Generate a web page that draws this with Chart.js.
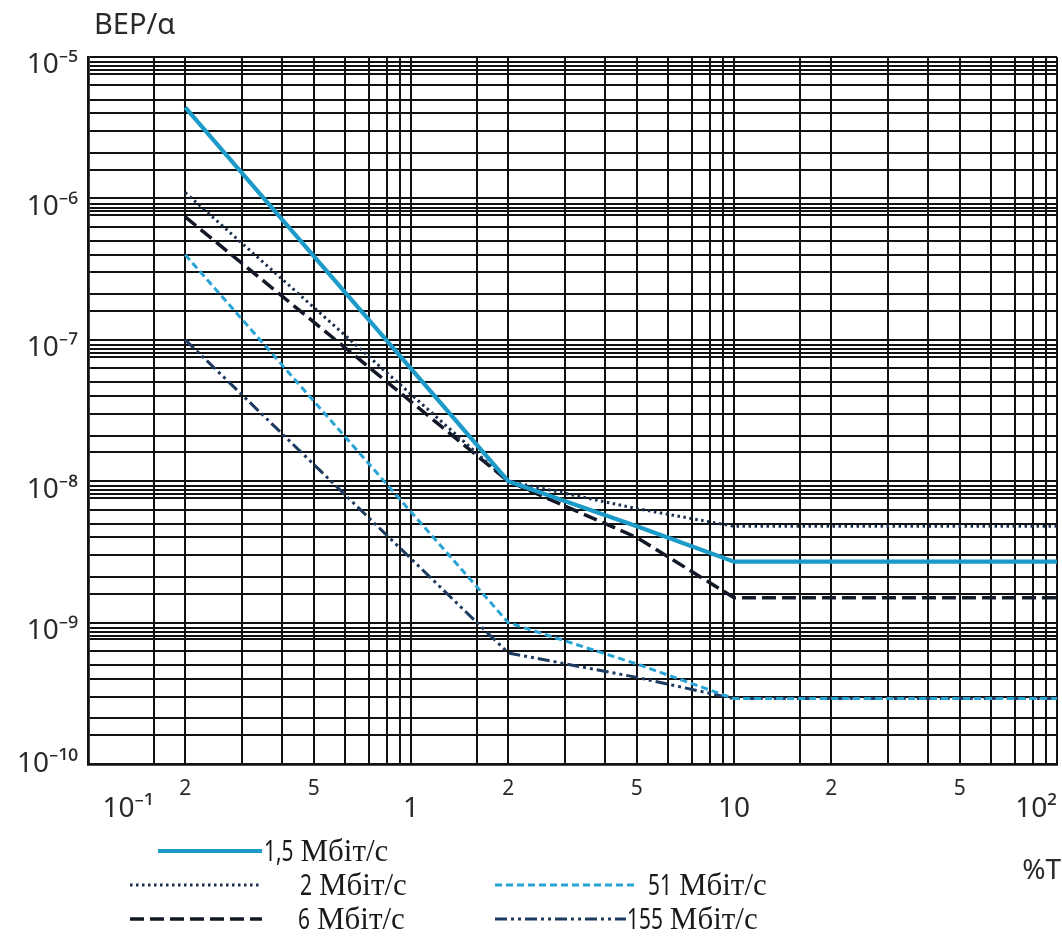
<!DOCTYPE html>
<html>
<head>
<meta charset="utf-8">
<script src="https://cdn.jsdelivr.net/npm/chart.js@4/dist/chart.umd.min.js"></script>
<style>
html,body{margin:0;padding:0;background:#fff;}
#wrap{width:1062px;height:938px;position:relative;}
</style>
</head>
<body>
<div id="wrap"><canvas id="c" width="1062" height="938"></canvas></div>
<script>
// ---- data ----
const xPoints = [0.2, 2, 5, 10, 100];               // %T
const seriesLabels = ['1,5 Мбіт/с', '2 Мбіт/с', '6 Мбіт/с', '51 Мбіт/с', '155 Мбіт/с'];
const s1_5 = [4.4e-6, 1.0e-8, 4.8e-9, 2.7e-9, 2.7e-9];
const s2   = [1.1e-6, 1.0e-8, 6.4e-9, 4.8e-9, 4.8e-9];
const s6   = [7.4e-7, 1.0e-8, 4.0e-9, 1.5e-9, 1.5e-9];
const s51  = [4.0e-7, 1.0e-9, 5.1e-10, 2.9e-10, 2.9e-10];
const s155 = [1.0e-7, 6.1e-10, 4.1e-10, 2.9e-10, 2.9e-10];

// tick labels
const xLabelValues = [0.1, 0.2, 0.5, 1, 2, 5, 10, 20, 50, 100];
const xLabelTexts  = ['  10⁻¹', '2', '5', '1', '2', '5', '10', '2', '5', '10²'];
const yLabelValues = [1e-10, 1e-9, 1e-8, 1e-7, 1e-6, 1e-5];
const yLabelTexts  = ['10⁻¹⁰', '10⁻⁹', '10⁻⁸', '10⁻⁷', '10⁻⁶', '10⁻⁵'];

// grid line multipliers inside each decade (as drawn on the original paper)
const xGridMult = [1, 1.6, 2, 3, 4, 5, 6.25, 7.4, 8.4, 9.25];
const yGridMult = [1, 1.6, 2.1, 3, 4, 5, 6.3, 7.6, 8.1, 8.6, 9.2];
const xDecades = [0.1, 1, 10];
const yDecades = [1e-10, 1e-9, 1e-8, 1e-7, 1e-6];

// ---- helpers ----
const xGrid = [];
xDecades.forEach(d => xGridMult.forEach(m => xGrid.push(m * d)));
xGrid.push(100);
const yGrid = [];
yDecades.forEach(d => yGridMult.forEach(m => yGrid.push(m * d)));
yGrid.push(1e-5);

function same(a, b) { return Math.abs(Math.log10(a) - Math.log10(b)) < 1e-6; }
function findLabel(vals, texts, v) {
  for (let i = 0; i < vals.length; i++) if (same(vals[i], v)) return texts[i];
  return null;
}
function isDecade(v) { const l = Math.log10(v); return Math.abs(l - Math.round(l)) < 1e-6; }
function pts(arr) { return arr.map((y, i) => ({x: xPoints[i], y: y})); }

const styles = [
  {color: '#1c9bc8', width: 4.2, dash: []},
  {color: '#1b2e4e', width: 3,   dash: [2.5, 3.5]},
  {color: '#121826', width: 3.5, dash: [14, 6]},
  {color: '#2aa3d5', width: 3,   dash: [7, 4]},
  {color: '#1d3a60', width: 3,   dash: [12, 4, 3, 4, 3, 4]}
];
const seriesData = [s1_5, s2, s6, s51, s155];

const datasets = seriesData.map((arr, i) => ({
  label: seriesLabels[i],
  data: pts(arr),
  borderColor: styles[i].color,
  backgroundColor: styles[i].color,
  borderWidth: styles[i].width,
  borderDash: styles[i].dash,
  pointRadius: 0,
  tension: 0,
  fill: false
}));

// legend placement (style)
const legendPlace = [
  {x0: 158, x1: 262, tx: 264, y: 851},
  {x0: 130, x1: 262, tx: 300, y: 885},
  {x0: 130, x1: 262, tx: 298, y: 919},
  {x0: 495, x1: 638, tx: 648, y: 885},
  {x0: 495, x1: 626, tx: 627, y: 919}
];

const extras = {
  id: 'extras',
  afterDraw(chart) {
    const ctx = chart.ctx;
    const ca = chart.chartArea;
    ctx.save();
    // axis captions
    ctx.fillStyle = '#2a2a2a';
    ctx.textBaseline = 'middle';
    ctx.textAlign = 'left';
    ctx.font = '29px "Noto Sans", "DejaVu Sans", sans-serif';
    ctx.fillText('BEP/α', ca.left + 6, ca.top - 31);
    ctx.textAlign = 'right';
    ctx.font = '28px "Noto Sans", "DejaVu Sans", sans-serif';
    ctx.fillText('%T', chart.width - 1, 871);
    // legend
    chart.data.datasets.forEach((ds, i) => {
      const p = legendPlace[i];
      ctx.beginPath();
      ctx.setLineDash(ds.borderDash || []);
      ctx.strokeStyle = ds.borderColor;
      ctx.lineWidth = ds.borderWidth;
      ctx.moveTo(p.x0, p.y);
      ctx.lineTo(p.x1, p.y);
      ctx.stroke();
      ctx.setLineDash([]);
      const parts = ds.label.split(' ');
      ctx.fillStyle = '#1a1a1a';
      ctx.textAlign = 'left';
      ctx.textBaseline = 'alphabetic';
      // number part: condensed sans
      ctx.font = '29px "Noto Sans", "DejaVu Sans", sans-serif';
      const sx = 0.72;
      const nw = ctx.measureText(parts[0]).width * sx;
      ctx.save();
      ctx.translate(p.tx, p.y + 10);
      ctx.scale(sx, 1);
      ctx.fillText(parts[0], 0, 0);
      ctx.restore();
      ctx.font = '31px "Liberation Serif", "DejaVu Serif", serif';
      ctx.fillText(parts[1], p.tx + nw + 7, p.y + 10);
    });
    ctx.restore();
  }
};

new Chart(document.getElementById('c'), {
  type: 'line',
  data: {datasets: datasets},
  plugins: [extras],
  options: {
    responsive: false,
    animation: false,
    layout: {padding: {top: 57, right: 5, bottom: 114, left: 0}},
    plugins: {legend: {display: false}, tooltip: {enabled: false}, title: {display: false}},
    scales: {
      x: {
        type: 'logarithmic',
        min: 0.1, max: 100,
        afterBuildTicks: s => { s.ticks = xGrid.map(v => ({value: v})); },
        afterFit: s => { s.height = 60; s.paddingLeft = 0; s.paddingRight = 0; },
        grid: {color: '#111', lineWidth: 2, drawTicks: false},
        border: {display: true, color: '#111', width: 2.8},
        ticks: {
          autoSkip: false, maxRotation: 0, minRotation: 0,
          align: 'inner',
          padding: 13,
          color: '#2a2a2a',
          font: c => {
            const v = c.tick ? c.tick.value : 1;
            return isDecade(v)
              ? {family: '"Noto Sans", "DejaVu Sans", sans-serif', size: 28, lineHeight: 0.76}
              : {family: '"Noto Sans", "DejaVu Sans", sans-serif', size: 21, lineHeight: 1.1};
          },
          callback: function (value) {
            const t = findLabel(xLabelValues, xLabelTexts, value);
            if (t === null) return '';
            return isDecade(value) ? ['', t] : t;
          }
        }
      },
      y: {
        type: 'logarithmic',
        min: 1e-10, max: 1e-5,
        afterBuildTicks: s => { s.ticks = yGrid.map(v => ({value: v})); },
        afterFit: s => { s.width = 88; s.paddingTop = 0; s.paddingBottom = 0; },
        grid: {color: '#111', lineWidth: 2, drawTicks: false},
        border: {display: true, color: '#111', width: 2.8},
        ticks: {
          autoSkip: false,
          padding: 10,
          color: '#2a2a2a',
          font: {family: '"Noto Sans", "DejaVu Sans", sans-serif', size: 28, lineHeight: 0.6},
          callback: function (value) {
            const t = findLabel(yLabelValues, yLabelTexts, value);
            if (t === null) return '';
            return same(value, 1e-10) ? t : ['', t];
          }
        }
      }
    }
  }
});
</script>
</body>
</html>
